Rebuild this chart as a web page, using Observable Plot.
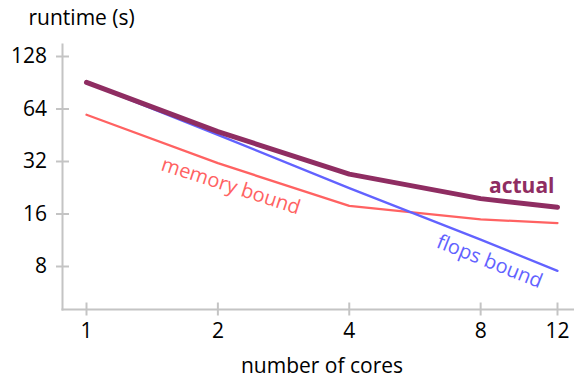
<!DOCTYPE html>
<html>
<head>
<meta charset="utf-8">
<script src="https://cdn.jsdelivr.net/npm/d3@7"></script>
<script src="https://cdn.jsdelivr.net/npm/@observablehq/plot@0.6"></script>
<style>
  html, body { margin: 0; padding: 0; background: #fff; }
  #chart { width: 574px; height: 379px; }
</style>
</head>
<body>
<div id="chart"></div>
<script>
// Data
const cores = [1, 2, 4, 8, 12];
const actual = [91, 47.5, 27.1, 19.6, 17.5];
const memoryBound = [59.3, 31.3, 17.8, 14.9, 14.2];
const flopsBound = [91, 45.5, 22.5, 11.4, 7.55];
const xTicks = [1, 2, 4, 8, 12];
const yTicks = [8, 16, 32, 64, 128];
const seriesNames = ["memory bound", "flops bound", "actual"];

const toRows = (name, values) => cores.map((c, i) => ({series: name, cores: c, runtime: values[i]}));
const memRows = toRows("memory bound", memoryBound);
const flopRows = toRows("flops bound", flopsBound);
const actRows = toRows("actual", actual);

const colors = {"memory bound": "#ff6262", "flops bound": "#6262ff", "actual": "#8f2d62"};
const axisColor = "#c4c4c4";
const font = "'Open Sans', sans-serif";

const chart = Plot.plot({
  width: 574,
  height: 379,
  marginLeft: 62,
  marginRight: 0,
  marginTop: 44,
  marginBottom: 70,
  style: {fontFamily: font, fontSize: "21px", background: "#fff", color: "#000", overflow: "visible"},
  x: {type: "log", base: 2, domain: [1, 12], insetLeft: 24, insetRight: 17},
  y: {type: "log", base: 2, domain: [8, 128], insetTop: 12, insetBottom: 43},
  marks: [
    Plot.frame({anchor: "left", stroke: axisColor, strokeWidth: 2}),
    Plot.frame({anchor: "bottom", stroke: axisColor, strokeWidth: 2}),
    // crossing tick marks
    Plot.axisY(yTicks, {anchor: "left", tickSize: 13, dx: 7, stroke: axisColor, strokeWidth: 2, fill: "none", label: null}),
    Plot.axisX(xTicks, {anchor: "bottom", tickSize: 13, dy: -6.5, stroke: axisColor, strokeWidth: 2, fill: "none", label: null}),
    // tick labels
    Plot.axisY(yTicks, {anchor: "left", tickSize: 6, tickPadding: 9.5, stroke: "none", fill: "#000", tickFormat: d => String(d), label: null}),
    Plot.axisX(xTicks, {anchor: "bottom", tickSize: 6, tickPadding: 8, stroke: "none", fill: "#000", tickFormat: d => String(d), label: null}),
    // lines
    Plot.line(memRows, {x: "cores", y: "runtime", stroke: colors["memory bound"], strokeWidth: 2.3, strokeLinejoin: "round", curve: "linear"}),
    Plot.line(flopRows, {x: "cores", y: "runtime", stroke: colors["flops bound"], strokeWidth: 2.3, strokeLinejoin: "round", curve: "linear"}),
    Plot.line(actRows, {x: "cores", y: "runtime", stroke: colors["actual"], strokeWidth: 5, strokeLinecap: "round", strokeLinejoin: "round", curve: "linear"}),
    // series labels anchored to data points
    Plot.text([memRows[1]], {x: "cores", y: "runtime", text: () => seriesNames[0], fill: colors["memory bound"], fontSize: 20, rotate: 18, dx: 13, dy: 23, textAnchor: "middle", lineAnchor: "middle"}),
    Plot.text([flopRows[3]], {x: "cores", y: "runtime", text: () => seriesNames[1], fill: colors["flops bound"], fontSize: 20, rotate: 21.7, dx: 9, dy: 22, textAnchor: "middle", lineAnchor: "middle"}),
    Plot.text([actRows[4]], {x: "cores", y: "runtime", text: () => seriesNames[2], fill: colors["actual"], fontSize: 21, fontWeight: "bold", dx: -3, dy: -14, textAnchor: "end", lineAnchor: "bottom"}),
    // axis titles
    Plot.text(["runtime (s)"], {text: d => d, frameAnchor: "top-left", dx: -34, dy: -20, textAnchor: "start", lineAnchor: "bottom", fill: "#000"}),
    Plot.text(["number of cores"], {text: d => d, frameAnchor: "bottom", dx: 3.5, dy: 63.5, textAnchor: "middle", lineAnchor: "bottom", fill: "#000"})
  ]
});
document.getElementById("chart").appendChild(chart);
</script>
</body>
</html>
